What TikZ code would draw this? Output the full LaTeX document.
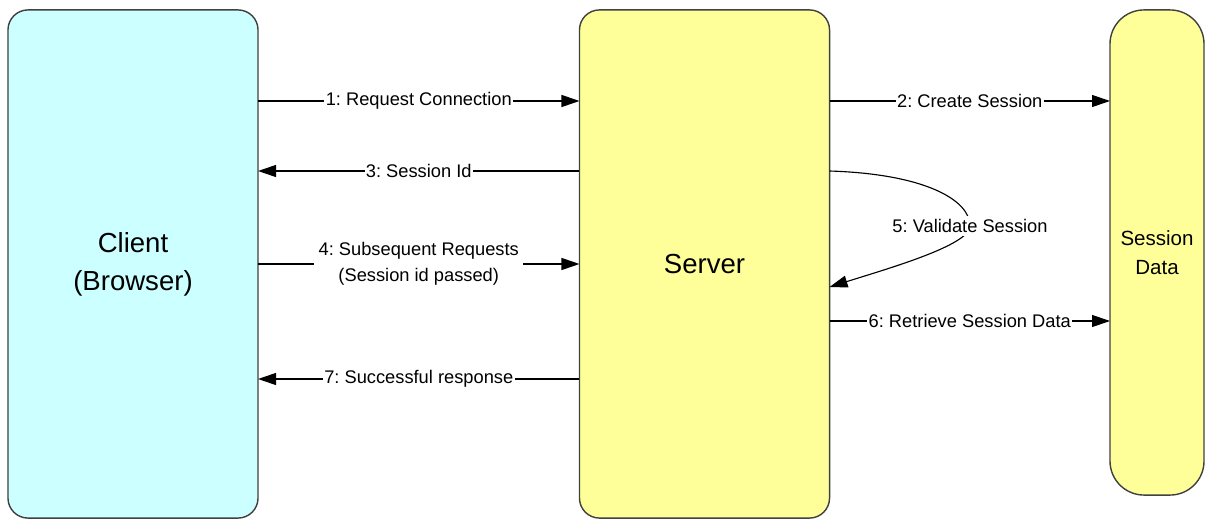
\documentclass[tikz,border=0pt]{standalone}
\usepackage{fontspec}
\setmainfont{Liberation Sans}
\usetikzlibrary{arrows.meta}
\definecolor{ccyan}{HTML}{CCFFFF}
\definecolor{cyell}{HTML}{FFFF99}
\definecolor{cedge}{HTML}{404040}
\frenchspacing

\begin{document}
\begin{tikzpicture}[x=0.025cm,y=-0.025cm,
  box/.style={draw=cedge,line width=1pt,rounded corners=0.5cm,outer sep=0pt,
    minimum width=6.25cm,minimum height=12.7cm,align=center,
    font=\fontsize{19.6}{27}\selectfont},
  msg/.style={line width=0.8pt,-{Triangle[length=0.45cm,width=0.3cm]}},
  lbl/.style={fill=white,inner sep=1pt,align=center,
    font=\fontsize{13}{18.4}\selectfont}]
  \useasboundingbox (0,0) rectangle (1220,530);
  \node[box,fill=ccyan] (cli) at (133,264) {Client\\(Browser)};
  \node[box,fill=cyell] (srv) at (704.5,264) {Server};
  \node[box,fill=cyell,minimum width=2.35cm,minimum height=12.125cm,
    rounded corners=0.85cm,font=\fontsize{14.6}{20.6}\selectfont]
    (sd) at (1157,252.5) {Session\\Data};
  % message levels
  \coordinate (y1) at (0,101);
  \coordinate (y3) at (0,171);
  \coordinate (y4) at (0,264);
  \coordinate (y5) at (0,287);
  \coordinate (y6) at (0,321);
  \coordinate (y7) at (0,379);
  \draw[msg] (cli.east |- y1) -- node[lbl] (m1) {1: Request Connection} (srv.west |- y1);
  \draw[msg] (srv.east |- y1) -- node[lbl] (m2) {2: Create Session} (sd.west |- y1);
  \draw[msg] (srv.west |- y3) -- node[lbl] (m3) {3: Session Id} (cli.east |- y3);
  \draw[msg] (cli.east |- y4) -- node[lbl,inner sep=3pt] (m4) {4: Subsequent Requests\\(Session id passed)} (srv.west |- y4);
  \draw[msg] (srv.east |- y3) .. controls (925,174) and (970,200) .. (970,226)
    node[lbl,inner sep=2pt] (m5) {5: Validate Session}
    .. controls (970,245) and (890,268) .. (srv.east |- y5);
  \draw[msg] (srv.east |- y6) -- node[lbl] (m6) {6: Retrieve Session Data} (sd.west |- y6);
  \draw[msg] (srv.west |- y7) -- node[lbl] (m7) {7: Successful response} (cli.east |- y7);
\end{tikzpicture}
\end{document}
